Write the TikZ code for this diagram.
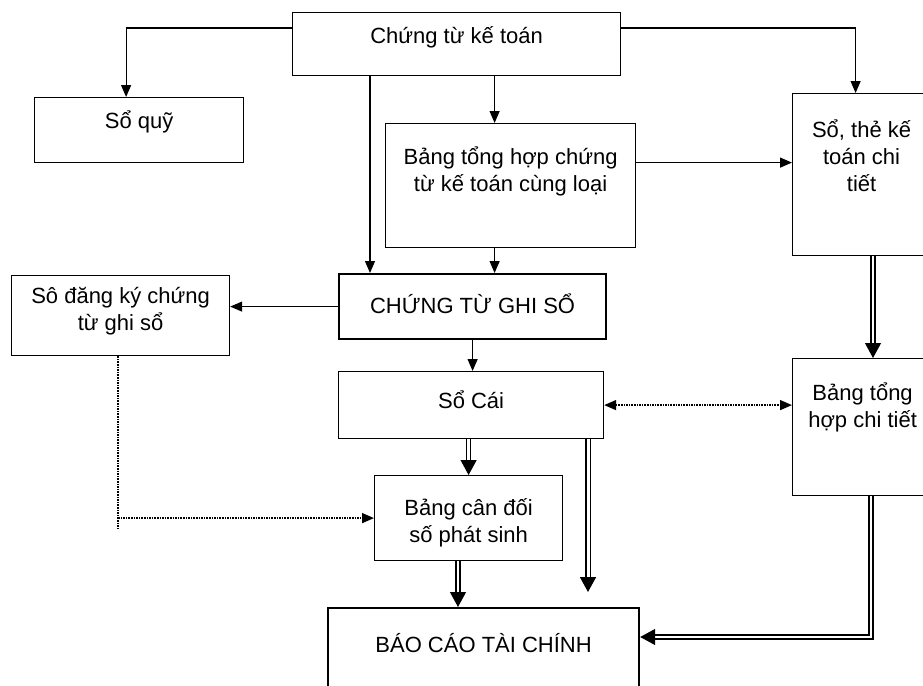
\documentclass[tikz,border=0pt]{standalone}
\usepackage{fontspec}
\setmainfont{Liberation Sans}
\usetikzlibrary{arrows.meta,calc}
\newdimen\pxl \pxl=0.5pt
\tikzset{box/.style n args={3}{draw=black,line width=0.6pt,inner sep=0pt,anchor=north west,
    execute at begin node={\begin{minipage}[c][#2][t]{#1}\fontsize{11pt}{13.5pt}\selectfont
      \centering\rule{0pt}{#3}},
    execute at end node={\end{minipage}}},
  thickbox/.style={line width=1.1pt},
  edge/.style={-{Triangle[length=6pt,width=5pt]},line width=0.6pt},
  dotline/.style={line width=0.75pt,dash pattern=on 0.8pt off 0.5pt},
  dotedge/.style={edge,dotline},
  dotboth/.style={dotline,{Triangle[length=6pt,width=5pt]}-{Triangle[length=6pt,width=5pt]}},
  dbledge/.style={-{Triangle[length=7.5pt,width=8pt]},double,double distance=1.4pt,line width=0.6pt},
  dblthick/.style={dbledge,line width=0.9pt,double distance=1.5pt}}

\begin{document}
\begin{tikzpicture}[x=0.5pt,y=-0.5pt]
    \useasboundingbox (0,0) rectangle (923,686);
    \clip (0,0) rectangle (923,686);
    % boxes
    \node[box={328\pxl}{63\pxl}{31\pxl}] (ctkt) at (292,12) {Chứng từ kế toán};
    \node[box={209\pxl}{65\pxl}{31\pxl}] (soquy) at (34,97) {Sổ quỹ};
    \node[box={250\pxl}{124\pxl}{41\pxl}] (bangth) at (385,123) {Bảng tổng hợp chứng\\từ kế toán cùng loại};
    \node[box={138\pxl}{162\pxl}{44\pxl}] (sothe) at (792,93) {Sổ, thẻ kế\\toán chi\\tiết};
    \node[box={218\pxl}{80\pxl}{28\pxl}] (sodk) at (11,275) {Sô đăng ký chứng\\từ ghi sổ};
    \node[box={267\pxl}{65\pxl}{39\pxl},thickbox] (ctgs) at (338,273) {CHỨNG TỪ GHI SỔ};
    \node[box={265\pxl}{67\pxl}{37\pxl}] (socai) at (338,371) {Sổ Cái};
    \node[box={140\pxl}{137\pxl}{42\pxl}] (bangct) at (792,358) {Bảng tổng\\hợp chi tiết};
    \node[box={188\pxl}{85\pxl}{40\pxl}] (bangcd) at (374,475) {Bảng cân đối\\số phát sinh};
    \node[box={311\pxl}{100\pxl}{44\pxl},thickbox] (bctc) at (327,607) {BÁO CÁO TÀI CHÍNH};
    % helper points
    \coordinate (c1) at ($(ctgs.north west)+(32,0)$);
    \coordinate (c2) at ($(bangth.north)+(-16,0)$);
    \coordinate (c3) at ($(bangth.east)+(0,-23)$);
    \coordinate (c4) at ($(sodk.south west)+(107,0)$);
    \coordinate (c5) at ($(sothe.south west)+(81,0)$);
    \coordinate (c6) at ($(bangcd.south west)+(84,0)$);
    \coordinate (c7) at ($(socai.south west)+(250,0)$);
    \coordinate (c9) at ($(bangct.south west)+(79,0)$);
    \coordinate (c10) at ($(bctc.north east)+(0,30)$);
    % single arrows
    \draw[edge] ($(ctkt.north west)+(0,16)$) -| ($(soquy.north)+(-13,0)$);
    \draw[edge] ($(ctkt.north east)+(0,16)$) -| ($(sothe.north)+(-6,0)$);
    \draw[edge] (ctkt.south -| c1) -- (c1);
    \draw[edge] (ctkt.south -| c2) -- (c2);
    \draw[edge] (bangth.south -| c2) -- (ctgs.north -| c2);
    \draw[edge] (c3) -- (c3 -| sothe.west);
    \draw[edge] (ctgs.west) -- (ctgs.west -| sodk.east);
    \draw[edge] (ctgs.south) -- (ctgs.south |- socai.north);
    % dotted
    \draw[dotline] (c4) -- ++(0,172);
    \draw[dotedge] (c4 |- bangcd.west) -- (bangcd.west);
    \draw[dotboth] (socai.east) -- (socai.east -| bangct.west);
    % double
    \draw[dbledge] (c5) -- (c5 |- bangct.north);
    \draw[dbledge] (bangcd.north |- socai.south) -- (bangcd.north);
    \draw[dbledge] (c6) -- (c6 |- bctc.north);
    \draw[dblthick,shorten >=7.5pt] (c7) -- (c7 |- bctc.north);
    \draw[dbledge] (c9) |- (c10);
\end{tikzpicture}
\end{document}
